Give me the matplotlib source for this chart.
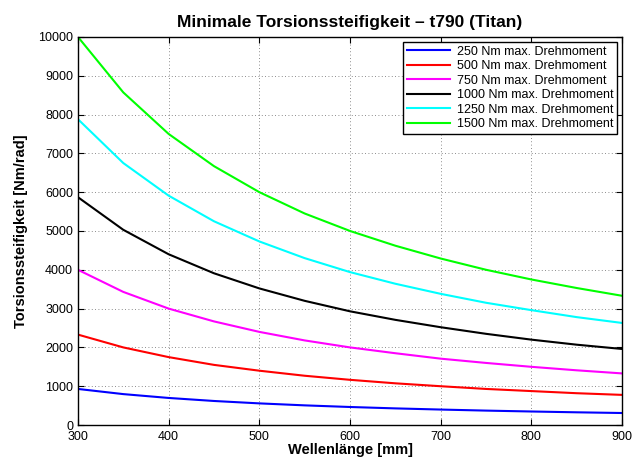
import matplotlib
matplotlib.use("Agg")
import matplotlib.pyplot as plt

plt.rcParams['font.family'] = ['Liberation Sans', 'DejaVu Sans']

lengths = [300, 350, 400, 450, 500, 550, 600, 650, 700, 750, 800, 850, 900]
labels = ["250 Nm max. Drehmoment", "500 Nm max. Drehmoment", "750 Nm max. Drehmoment",
          "1000 Nm max. Drehmoment", "1250 Nm max. Drehmoment", "1500 Nm max. Drehmoment"]
colors = ["#0000ff", "#ff0000", "#ff00ff", "#000000", "#00ffff", "#00ff00"]

s250 = [930, 797, 698, 620, 558, 507, 465, 429, 399, 372, 349, 328, 310]
s500 = [2330, 2000, 1750, 1550, 1400, 1270, 1165, 1075, 1000, 930, 875, 820, 777]
s750 = [4000, 3430, 3000, 2670, 2400, 2180, 2000, 1850, 1710, 1600, 1500, 1410, 1330]
s1000 = [5870, 5030, 4400, 3910, 3520, 3200, 2930, 2710, 2520, 2350, 2200, 2070, 1960]
s1250 = [7880, 6750, 5910, 5250, 4730, 4300, 3940, 3640, 3380, 3150, 2960, 2780, 2630]
s1500 = [10000, 8570, 7500, 6670, 6000, 5450, 5000, 4620, 4290, 4000, 3750, 3530, 3330]
series = [s250, s500, s750, s1000, s1250, s1500]

xticks = [300, 400, 500, 600, 700, 800, 900]
yticks = list(range(0, 10001, 1000))

fig = plt.figure(figsize=(6.44, 4.61), dpi=100)
ax = fig.add_axes([0.121, 0.078, 0.845, 0.842])

for ys, c, lab in zip(series, colors, labels):
    ax.plot(lengths, ys, color=c, lw=1.5, label=lab)

ax.set_xlim(300, 900)
ax.set_ylim(0, 10000)
ax.set_xticks(xticks)
ax.set_yticks(yticks)
ax.tick_params(direction='in', top=True, right=True, labelsize=9, length=4, width=0.8)
ax.tick_params(axis='x', pad=4)
ax.grid(True, linestyle=(0, (1, 3)), color='black', lw=0.6, alpha=0.6)
for sp in ax.spines.values():
    sp.set_linewidth(1.0)

ax.set_title("Minimale Torsionssteifigkeit \u2013 t790 (Titan)", fontsize=12.5, fontweight='bold', pad=7)
ax.set_xlabel("Wellenlänge [mm]", fontsize=10.5, fontweight='bold', labelpad=0)
ax.set_ylabel("Torsionssteifigkeit [Nm/rad]", fontsize=10.5, fontweight='bold', labelpad=7)

leg = ax.legend(loc='upper right', fontsize=9, fancybox=False, edgecolor='black',
                framealpha=1, handlelength=3.5, borderpad=0.3, labelspacing=0.2,
                handletextpad=0.5, borderaxespad=0.4)
leg.get_frame().set_linewidth(1.0)

fig.savefig("out.png", dpi=100)
